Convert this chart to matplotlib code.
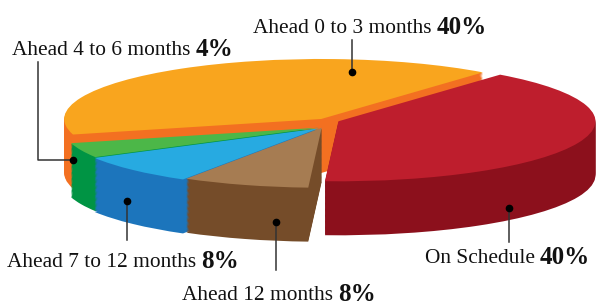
import numpy as np
import matplotlib.pyplot as plt

labels = ['Ahead 0 to 3 months', 'Ahead 4 to 6 months', 'Ahead 7 to 12 months',
          'Ahead 12 months', 'On Schedule']
pcts = [40, 4, 8, 8, 40]

top_colors = ['#F9A51E', '#4CB748', '#27AAE1', '#A67C52', '#BE1E2D']
side_colors = ['#F37021', '#009444', '#1C75BC', '#754C29', '#8C101C']
explode = [0.02, 0.02, 0.03, 0.03, 0.06]
drop = [0, 0.12, 0.12, 0.1, 0]   # front slices sit a bit lower

# label layout (pixels, origin top-left)
text_pos = [(253, 33), (12, 55), (7, 267), (182, 300), (425, 263)]
leaders = [
    [(352, 40), (352, 72)],
    [(38, 62), (38, 160), (73, 160)],
    [(127, 240), (127, 201)],
    [(276, 270), (276, 222)],
    [(509, 242), (509, 208)],
]

fig = plt.figure(figsize=(5.96, 3.05), dpi=100)
ax = fig.add_axes([0, 0, 1, 1])

# pie drawn in unit circle, squashed through the axes limits
cx, cy, rx, ry = 324, 120, 257, 60
depth = 54 / ry
n = 45
wp = dict(linewidth=0, antialiased=True)


def layer(colors, y0):
    wedges, _ = ax.pie(pcts, colors=colors, startangle=51, explode=explode,
                       center=(0, y0), radius=1, wedgeprops=wp)
    for w, d in zip(wedges, drop):
        c = w.center
        w.set_center((c[0], c[1] - d))


for k in range(n, 0, -1):
    layer(side_colors, -depth * k / n)
layer(top_colors, 0)

ax.set_aspect('auto')
ax.set_xlim(-cx / rx, (596 - cx) / rx)
ax.set_ylim((cy - 305) / ry, cy / ry)
ax.axis('off')

# overlay in pixel coordinates for labels
ax2 = fig.add_axes([0, 0, 1, 1])
ax2.set_xlim(0, 596)
ax2.set_ylim(305, 0)
ax2.axis('off')
ax2.patch.set_alpha(0)

for pts in leaders:
    xs = [p[0] for p in pts]
    ys = [p[1] for p in pts]
    ax2.plot(xs, ys, color='#333333', lw=1.1)
    ax2.plot(xs[-1], ys[-1], 'o', color='black', ms=4.5)

for lab, pct, (tx, ty) in zip(labels, pcts, text_pos):
    t = ax2.text(tx, ty, lab, fontsize=15.4, family='Liberation Serif',
                 va='baseline', color='#111111')
    ax2.annotate(f'{pct}%', xy=(1, 0), xycoords=t, xytext=(5, -1),
                 textcoords='offset pixels', fontsize=18, fontweight='bold',
                 family='Liberation Serif', va='bottom', color='#111111')

fig.savefig('out.png', dpi=100)
